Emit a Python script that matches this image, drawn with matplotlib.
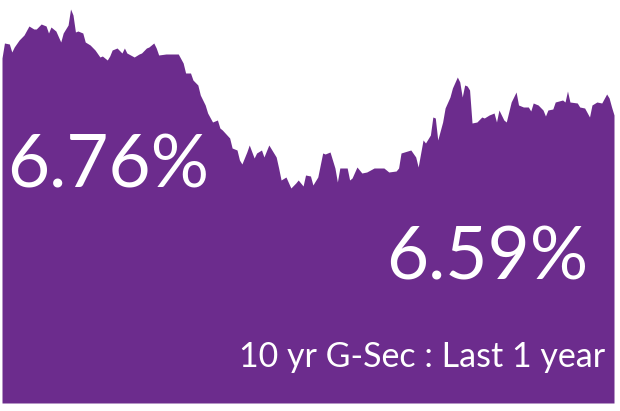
import matplotlib
matplotlib.use("Agg")
import matplotlib.pyplot as plt

# 10 yr G-Sec yield, last 1 year (trading-day index, yield %)
days = [0, 1, 3, 4, 5, 7, 9, 11, 13, 14, 16, 18, 19, 20, 22, 24, 25, 27, 28, 29,
        30, 31, 33, 34, 36, 38, 40, 41, 43, 44, 45, 47, 49, 50, 51, 54, 56, 57, 59, 60,
        62, 63, 64, 67, 72, 74, 75, 77, 78, 80, 81, 83, 84, 86, 88, 89, 90, 93, 94, 96,
        97, 98, 100, 101, 103, 104, 106, 107, 109, 112, 113, 114, 116, 118, 120, 121, 123, 124, 126, 127,
        129, 131, 132, 134, 136, 137, 138, 141, 142, 143, 145, 147, 149, 152, 156, 158, 161, 162, 163, 167,
        169, 170, 172, 173, 175, 176, 177, 178, 180, 181, 183, 184, 186, 187, 188, 189, 190, 191, 192, 194,
        196, 197, 199, 201, 202, 203, 204, 205, 206, 207, 208, 210, 211, 213, 215, 216, 217, 219, 221, 222,
        223, 225, 226, 229, 230, 231, 232, 235, 236, 238, 240, 241, 243, 245, 247, 248, 249, 250]
yld = [6.760, 6.805, 6.802, 6.778, 6.793, 6.814, 6.829, 6.856, 6.847, 6.847, 6.862, 6.856, 6.835, 6.853, 6.841, 6.808, 6.835, 6.859, 6.907, 6.889,
       6.838, 6.841, 6.835, 6.808, 6.799, 6.784, 6.763, 6.766, 6.754, 6.766, 6.784, 6.790, 6.775, 6.790, 6.775, 6.763, 6.772, 6.775, 6.790, 6.793,
       6.805, 6.790, 6.769, 6.772, 6.772, 6.745, 6.715, 6.715, 6.694, 6.679, 6.649, 6.619, 6.595, 6.568, 6.574, 6.550, 6.544, 6.520, 6.490, 6.484,
       6.454, 6.442, 6.478, 6.499, 6.460, 6.475, 6.484, 6.463, 6.499, 6.463, 6.430, 6.394, 6.403, 6.370, 6.385, 6.394, 6.376, 6.409, 6.406, 6.379,
       6.403, 6.475, 6.472, 6.478, 6.430, 6.388, 6.430, 6.430, 6.394, 6.400, 6.433, 6.415, 6.418, 6.430, 6.430, 6.418, 6.421, 6.430, 6.475, 6.484,
       6.463, 6.433, 6.514, 6.505, 6.529, 6.583, 6.580, 6.514, 6.568, 6.610, 6.643, 6.670, 6.703, 6.688, 6.643, 6.679, 6.676, 6.664, 6.565, 6.568,
       6.583, 6.580, 6.589, 6.595, 6.568, 6.604, 6.589, 6.574, 6.568, 6.598, 6.628, 6.658, 6.619, 6.613, 6.613, 6.601, 6.625, 6.619, 6.604, 6.586,
       6.604, 6.607, 6.628, 6.634, 6.628, 6.661, 6.628, 6.625, 6.613, 6.610, 6.583, 6.619, 6.628, 6.625, 6.652, 6.640, 6.613, 6.589]

start_label = "6.76%"
end_label = "6.59%"
caption = "10 yr G-Sec : Last 1 year"

purple = "#6C2C8D"

fig = plt.figure(figsize=(6.2, 4.11), dpi=100)
ax = fig.add_axes([2 / 620, 8 / 411, 612 / 620, 403 / 411])
ax.fill_between(days, yld, 5.725, color=purple, linewidth=0)
ax.set_xlim(0, 250)
ax.set_ylim(5.725, 6.934)
ax.axis("off")

fig.text(7 / 620, (411 - 187) / 411, start_label, color="white", fontsize=52.5,
         family="Lato", va="baseline", ha="left")
fig.text(386 / 620, (411 - 280) / 411, end_label, color="white", fontsize=52.5,
         family="Lato", va="baseline", ha="left")
fig.text(605 / 620, (411 - 367) / 411, caption, color="white", fontsize=24.5,
         family="Lato", va="baseline", ha="right")

fig.savefig("out.png", dpi=100)
